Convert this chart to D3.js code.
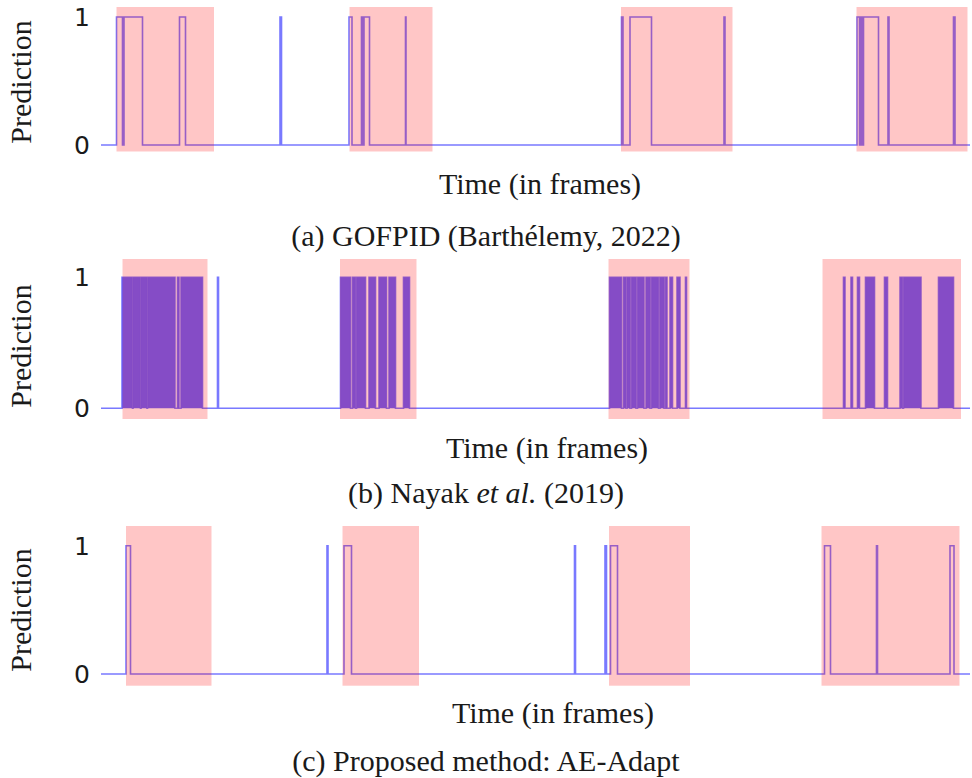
<!DOCTYPE html>
<html>
<head>
<meta charset="utf-8">
<script src="https://cdn.jsdelivr.net/npm/d3@7"></script>
<style>
body { margin: 0; background: #fff; }
.lab { font-family: "Liberation Serif", serif; font-size: 30px; fill: #1a1a1a; }
.tick { font-family: "DejaVu Sans", sans-serif; font-size: 25px; fill: #1a1a1a; }
</style>
</head>
<body>
<div id="chart"></div>
<script>
var nFrames = 1738;

// ground-truth anomaly windows (shaded), in frames
var anomaliesA = [[31, 226], [497, 663], [1040, 1263], [1511, 1733]];
var anomaliesB = [[43, 213], [478, 631], [1015, 1177], [1443, 1720]];
var anomaliesC = [[50, 221], [483, 636], [1016, 1178], [1441, 1717]];

// frames where the detector predicts 1
var alarmsA = [[31, 43], [46, 83], [157, 169], [358, 361], [496, 502], [521, 524], [526, 537],
	[609, 610], [1041, 1044], [1058, 1101], [1246, 1248], [1512, 1517], [1520, 1522],
	[1525, 1555], [1574, 1576], [1705, 1708]];
var alarmsB = [[233, 235]];
// Nayak et al. flicker so fast that these stretches render solid
var burstsB = [[42, 63], [64, 79], [80, 92], [93, 148], [153, 156], [160, 203],
	[479, 499], [503, 509], [511, 529], [536, 549], [556, 571], [576, 589], [605, 617],
	[1017, 1041], [1045, 1050], [1052, 1058], [1061, 1070], [1073, 1086], [1090, 1098],
	[1101, 1115], [1118, 1126], [1129, 1132], [1138, 1143], [1152, 1158], [1169, 1171],
	[1485, 1488], [1500, 1503], [1513, 1517], [1529, 1547], [1567, 1573], [1598, 1603],
	[1605, 1640], [1675, 1705]];
var alarmsC = [[50, 59], [452, 454], [486, 501], [947, 949], [1008, 1011], [1019, 1033],
	[1447, 1459], [1551, 1553], [1698, 1706]];

var yTicks = [0, 1];

var width = 972, height = 778;

var panels = [
	{anomalies: anomaliesA, alarms: alarmsA, bursts: [], base: 145, top: 17, boxTop: 7, boxBottom: 151.5,
	 predY: 82, timeX: 540, timeY: 194, capY: 246, caption: [["(a) GOFPID (Barthélemy, 2022)", "normal"]]},
	{anomalies: anomaliesB, alarms: alarmsB, bursts: burstsB, base: 408.3, top: 277.3, boxTop: 259, boxBottom: 419,
	 predY: 346, timeX: 547, timeY: 458, capY: 503, caption: [["(b) Nayak ", "normal"], ["et al.", "italic"], [" (2019)", "normal"]]},
	{anomalies: anomaliesC, alarms: alarmsC, bursts: [], base: 674, top: 545.7, boxTop: 526, boxBottom: 685.7,
	 predY: 610, timeX: 553, timeY: 723, capY: 771, caption: [["(c) Proposed method: AE-Adapt", "normal"]]}
];

var x = d3.scaleLinear().domain([0, nFrames]).range([101, 970]);

var svg = d3.select("#chart").append("svg")
	.attr("width", width)
	.attr("height", height)
	.style("background", "#fff");

function stepPoints(intervals) {
	var pts = [[0, 0]];
	intervals.slice().sort(function(a, b) { return a[0] - b[0]; }).forEach(function(iv) {
		pts.push([iv[0], 0], [iv[0], 1], [iv[1], 1], [iv[1], 0]);
	});
	pts.push([nFrames, 0]);
	return pts;
}

panels.forEach(function(p) {
	var y = d3.scaleLinear().domain([0, 1]).range([p.base, p.top]);
	var g = svg.append("g");

	var area = d3.area()
		.x(function(d) { return x(d); })
		.y0(y(0))
		.y1(y(1));

	g.selectAll(".burst")
		.data(p.bursts)
		.enter().append("path")
		.attr("class", "burst")
		.attr("d", function(d) { return area(d); })
		.style("fill", "#6262ff");

	var line = d3.line()
		.x(function(d) { return x(d[0]); })
		.y(function(d) { return y(d[1]); });

	g.append("path")
		.attr("d", line(stepPoints(p.alarms.concat(p.bursts))))
		.style("fill", "none")
		.style("stroke", "#6262ff")
		.style("stroke-width", 1.6)
		.style("opacity", 0.85);

	// shaded anomaly windows drawn over the prediction, as in the original
	g.selectAll(".span")
		.data(p.anomalies)
		.enter().append("rect")
		.attr("x", function(d) { return x(d[0]); })
		.attr("width", function(d) { return x(d[1]) - x(d[0]); })
		.attr("y", p.boxTop)
		.attr("height", p.boxBottom - p.boxTop)
		.style("fill", "#ff0000")
		.style("opacity", 0.225);

	g.selectAll(".tick")
		.data(yTicks)
		.enter().append("text")
		.attr("class", "tick")
		.attr("x", 82)
		.attr("y", function(d) { return y(d) + 9; })
		.attr("text-anchor", "middle")
		.text(function(d) { return d; });

	g.append("text")
		.attr("class", "lab")
		.attr("transform", "translate(31," + p.predY + ") rotate(-90)")
		.attr("text-anchor", "middle")
		.text("Prediction");

	g.append("text")
		.attr("class", "lab")
		.attr("x", p.timeX)
		.attr("y", p.timeY)
		.attr("text-anchor", "middle")
		.text("Time (in frames)");

	var cap = g.append("text")
		.attr("class", "lab")
		.attr("x", 486)
		.attr("y", p.capY)
		.attr("text-anchor", "middle");
	p.caption.forEach(function(c) {
		cap.append("tspan").style("font-style", c[1]).text(c[0]);
	});
});
</script>
</body>
</html>
